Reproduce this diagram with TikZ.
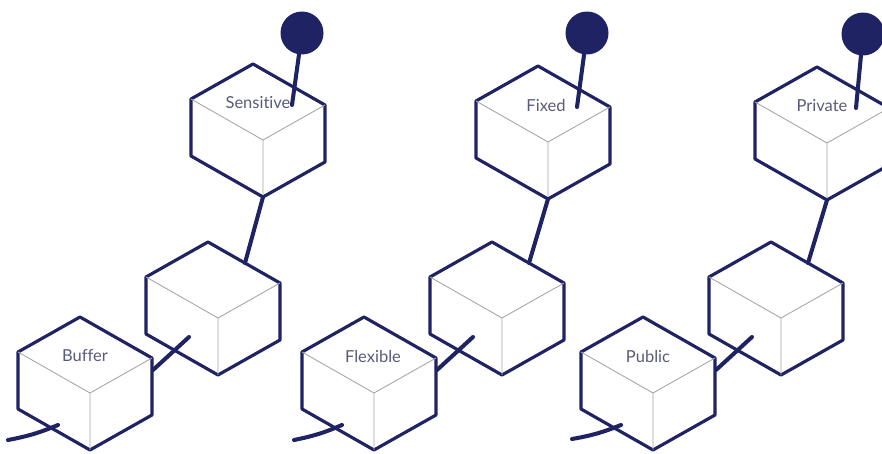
\documentclass[tikz,border=0pt]{standalone}
\usepackage{fontspec}
\setsansfont{Lato}[Ligatures=NoCommon]
\usepackage{tikz}
\usetikzlibrary{calc}
\definecolor{navy}{RGB}{31,35,99}
\definecolor{labelgray}{RGB}{88,92,122}
\tikzstyle{link}=[draw=navy, line width=2.3pt, line cap=round]
\tikzset{
    cube edge/.style={draw=navy, line width=1.8pt, fill=white, line join=round},
    inner edge/.style={draw=black!35, line width=0.5pt},
    cube label/.style={font=\sffamily\fontsize{9.4}{11}\selectfont, text=labelgray, inner sep=0pt},
    ball/.style={circle, fill=navy, minimum size=0.86cm, inner sep=0pt},
    pics/cube/.style={code={
        \coordinate (-t) at (0,0);
        \coordinate (-l) at (-62,35);
        \coordinate (-lb) at (-62,92);
        \coordinate (-b) at (10,133);
        \coordinate (-rb) at (72,98);
        \coordinate (-r) at (72,41);
        \coordinate (-c) at (10,76);
        \coordinate (-f) at (5,39);
        \coordinate (-pin) at (39,41);
        \coordinate (-in) at (37,21);
        \coordinate (-side) at (73,53);
        \coordinate (-out) at (-19,95);
        \coordinate (-foot) at (-22,108);
        \draw[cube edge] (-t) -- (-l) -- (-lb) -- (-b) -- (-rb) -- (-r) -- cycle;
        \draw[inner edge] (-l) -- (-c) -- (-r) (-c) -- (-b);
    }}
}

\begin{document}
\begin{tikzpicture}[x=0.02cm, y=-0.02cm]
  \useasboundingbox (0,0) rectangle (882,453);

  % buffer / sensitive
  \pic (low1) at (80,317) {cube};
  \pic (mid1) at (208,242) {cube};
  \pic (top1) at (253,64) {cube};
  \node[cube label] (buffer) at (low1-f) {Buffer};
  \node[cube label] (sensitive) at (top1-f) {Sensitive};
  \node[ball] (k1) at (302,33) {};
  \coordinate (e1) at (8,440);

  % flexible / fixed
  \pic (low2) at (364,317) {cube};
  \pic (mid2) at (492,242) {cube};
  \pic (top2) at (538,66) {cube};
  \node[cube label, xshift=0.08cm] (flexible) at (low2-f) {Flexible};
  \node[cube label, xshift=0.06cm] (fixed) at (top2-f) {Fixed};
  \node[ball] (k2) at (587,33) {};
  \coordinate (e2) at (294,440);

  % public / private
  \pic (low3) at (643,317) {cube};
  \pic (mid3) at (771,242) {cube};
  \pic (top3) at (817,67) {cube};
  \node[cube label] (public) at (low3-f) {Public};
  \node[cube label] (private) at (top3-f) {Private};
  \node[ball] (k3) at (863,34) {};
  \coordinate (e3) at (572,439);

  \draw[link] (k1) -- (top1-pin);
  \draw[link] (top1-b) -- (mid1-in);
  \draw[link] (mid1-out) -- (low1-side);
  \draw[link] (low1-foot) to[bend left=6] (e1);

  \draw[link] (k2) -- (top2-pin);
  \draw[link] (top2-b) -- (mid2-in);
  \draw[link] (mid2-out) -- (low2-side);
  \draw[link] (low2-foot) to[bend left=6] (e2);

  \draw[link] (k3) -- (top3-pin);
  \draw[link] (top3-b) -- (mid3-in);
  \draw[link] (mid3-out) -- (low3-side);
  \draw[link] (low3-foot) to[bend left=6] (e3);
\end{tikzpicture}
\end{document}
